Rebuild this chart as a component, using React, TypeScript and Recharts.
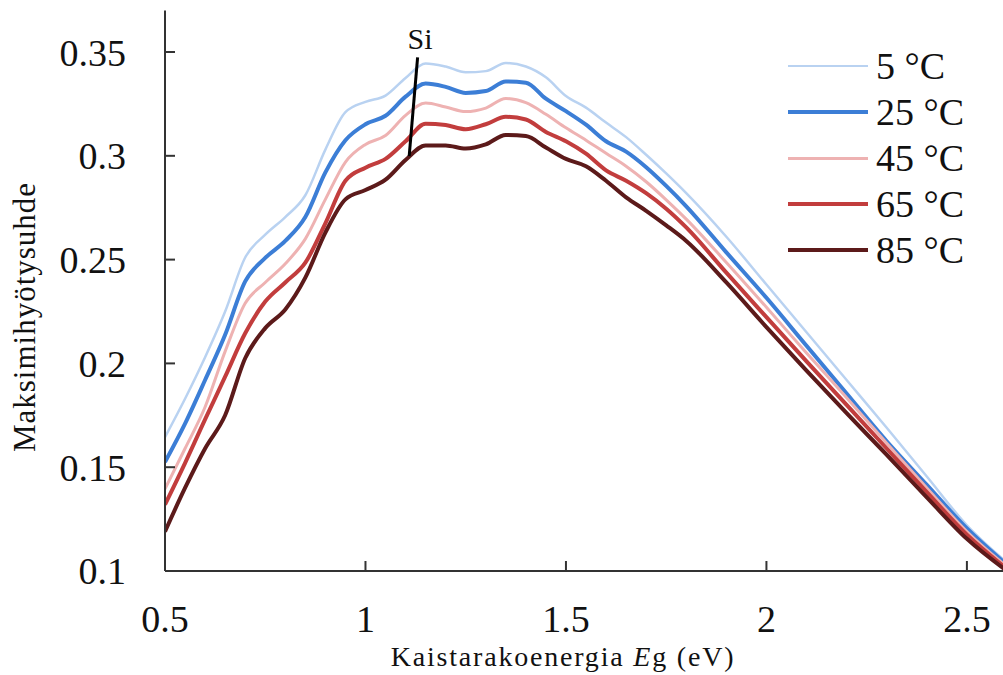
import { LineChart, Line, XAxis, YAxis, ReferenceLine, ReferenceDot } from 'recharts';

const FONT = '"Liberation Serif", "Times New Roman", serif';

// band gap grid (eV)
const bandGap = [
  0.5, 0.55, 0.6, 0.65, 0.7, 0.75, 0.8, 0.85, 0.9, 0.95,
  1.0, 1.05, 1.1, 1.15, 1.2, 1.25, 1.3, 1.35, 1.4, 1.45,
  1.5, 1.55, 1.6, 1.65, 1.7, 1.75, 1.8, 1.9, 2.0, 2.1,
  2.2, 2.3, 2.4, 2.5, 2.6,
];

// max efficiency per temperature
const eff5 = [
  0.1645, 0.183, 0.203, 0.225, 0.251, 0.262, 0.2705, 0.281, 0.303, 0.321,
  0.326, 0.329, 0.3375, 0.3445, 0.343, 0.3402, 0.3408, 0.3447, 0.343, 0.3378,
  0.3288, 0.3232, 0.316, 0.309, 0.3005, 0.2915, 0.282, 0.261, 0.238, 0.215,
  0.192, 0.169, 0.1455, 0.122, 0.104,
];
const eff25 = [
  0.1525, 0.171, 0.192, 0.2138, 0.2395, 0.2508, 0.259, 0.2705, 0.292, 0.3075,
  0.3152, 0.3193, 0.3285, 0.3348, 0.3332, 0.3303, 0.3312, 0.3358, 0.3352, 0.3275,
  0.3215, 0.315, 0.307, 0.302, 0.2945, 0.2855, 0.2757, 0.2535, 0.2316, 0.2085,
  0.1855, 0.1625, 0.1415, 0.1205, 0.103,
];
const eff45 = [
  0.1395, 0.159, 0.179, 0.2058, 0.229, 0.239, 0.248, 0.26, 0.279, 0.297,
  0.3055, 0.3098, 0.3195, 0.3254, 0.3235, 0.3213, 0.323, 0.3276, 0.3256, 0.32,
  0.3135, 0.3075, 0.3012, 0.295, 0.2875, 0.2788, 0.2695, 0.2486, 0.227, 0.205,
  0.1835, 0.1615, 0.14, 0.119, 0.102,
];
const eff65 = [
  0.132, 0.152, 0.173, 0.1936, 0.2145, 0.2298, 0.239, 0.2485, 0.2675, 0.288,
  0.2943, 0.2985, 0.307, 0.3155, 0.3148, 0.3128, 0.3152, 0.3188, 0.3175, 0.3115,
  0.307, 0.301, 0.293, 0.288, 0.282, 0.2745, 0.2655, 0.2437, 0.2223, 0.201,
  0.18, 0.159, 0.138, 0.1175, 0.101,
];
const eff85 = [
  0.119, 0.14, 0.159, 0.175, 0.2025, 0.217, 0.226, 0.2413, 0.263, 0.279,
  0.2835, 0.2885, 0.298, 0.305, 0.305, 0.3035, 0.3055, 0.31, 0.3095, 0.304,
  0.2985, 0.295, 0.288, 0.28, 0.2735, 0.2665, 0.259, 0.239, 0.2175, 0.1965,
  0.176, 0.156, 0.1355, 0.1155, 0.1,
];

const xTicks = [0.5, 1, 1.5, 2, 2.5];
const yTicks = [0.1, 0.15, 0.2, 0.25, 0.3, 0.35];

const series = [
  { key: 't5', label: '5 °C', values: eff5, color: '#b9d2f1', width: 2.5, legendWidth: 2 },
  { key: 't25', label: '25 °C', values: eff25, color: '#3c7ed6', width: 4, legendWidth: 4 },
  { key: 't45', label: '45 °C', values: eff45, color: '#eeb2b2', width: 3, legendWidth: 3 },
  { key: 't65', label: '65 °C', values: eff65, color: '#c23d3d', width: 4, legendWidth: 4 },
  { key: 't85', label: '85 °C', values: eff85, color: '#5c1a1a', width: 4, legendWidth: 4 },
];

// "Si" pointer (data coords)
const siPointer = [
  { x: 1.13, y: 0.3474 },
  { x: 1.109, y: 0.2999 },
];
const siLabel = { x: 1.136, y: 0.3514 };

const data = bandGap.map((e, i) => {
  const row: Record<string, number> = { e };
  series.forEach((s) => {
    row[s.key] = s.values[i];
  });
  return row;
});

function TempLegend() {
  return (
    <div style={{ position: 'absolute', left: 788, top: 43, fontFamily: FONT, fontSize: 38, color: '#111' }}>
      {series.map((s) => (
        <div key={s.key} style={{ display: 'flex', alignItems: 'center', height: 46 }}>
          <div style={{ width: 80, height: s.legendWidth, background: s.color, marginRight: 8 }} />
          <span style={{ lineHeight: '46px' }}>{s.label}</span>
        </div>
      ))}
    </div>
  );
}

export default function App() {
  const axisColor = '#333';
  const tickStyle = { fill: '#111', fontSize: 38, fontFamily: FONT };

  return (
    <div style={{ position: 'fixed', left: 0, top: 0, width: 1003, height: 675, overflow: 'hidden', background: '#fff' }}>
      <LineChart
        width={1020}
        height={675}
        data={data}
        margin={{ top: 10.5, right: 13, left: 65, bottom: 44 }}
      >
        <XAxis
          dataKey="e"
          type="number"
          domain={[0.5, 2.6]}
          ticks={xTicks}
          allowDataOverflow
          height={60}
          stroke={axisColor}
          strokeWidth={2}
          tickSize={-10}
          tickMargin={44}
          tick={tickStyle}
          label={{
            content: () => (
              <text x={563} y={666} textAnchor="middle" style={{ fontFamily: FONT, fontSize: 28, letterSpacing: 1.8 }} fill="#111">
                Kaistarakoenergia <tspan style={{ fontStyle: 'italic' }}>E</tspan>g (eV)
              </text>
            ),
          }}
        />
        <XAxis
          xAxisId="top"
          dataKey="e"
          type="number"
          orientation="top"
          domain={[0.5, 2.6]}
          ticks={xTicks}
          height={0}
          stroke={axisColor}
          strokeWidth={2}
          tickSize={-11}
          tick={false}
        />
        <YAxis
          type="number"
          domain={[0.1, 0.37]}
          ticks={yTicks}
          allowDataOverflow
          width={100}
          stroke={axisColor}
          strokeWidth={2}
          tickSize={-10}
          tickMargin={49}
          tick={tickStyle}
          label={{
            content: () => (
              <text
                x={35}
                y={317}
                transform="rotate(-90, 35, 317)"
                textAnchor="middle"
                style={{ fontFamily: FONT, fontSize: 31, letterSpacing: 1 }}
                fill="#111"
              >
                Maksimihyötysuhde
              </text>
            ),
          }}
        />

        {series.map((s) => (
          <Line
            key={s.key}
            type="monotone"
            dataKey={s.key}
            name={s.label}
            stroke={s.color}
            strokeWidth={s.width}
            dot={false}
            activeDot={false}
            isAnimationActive={false}
          />
        ))}

        {/* Si annotation */}
        <ReferenceLine segment={siPointer} stroke="#000" strokeWidth={3} ifOverflow="visible" />
        <ReferenceDot
          x={siLabel.x}
          y={siLabel.y}
          r={0}
          ifOverflow="visible"
          shape={(p: { cx?: number; cy?: number }) => (
            <text x={p.cx} y={p.cy} textAnchor="middle" style={{ fontFamily: FONT, fontSize: 30 }} fill="#111">
              Si
            </text>
          )}
        />
      </LineChart>
      <TempLegend />
    </div>
  );
}
